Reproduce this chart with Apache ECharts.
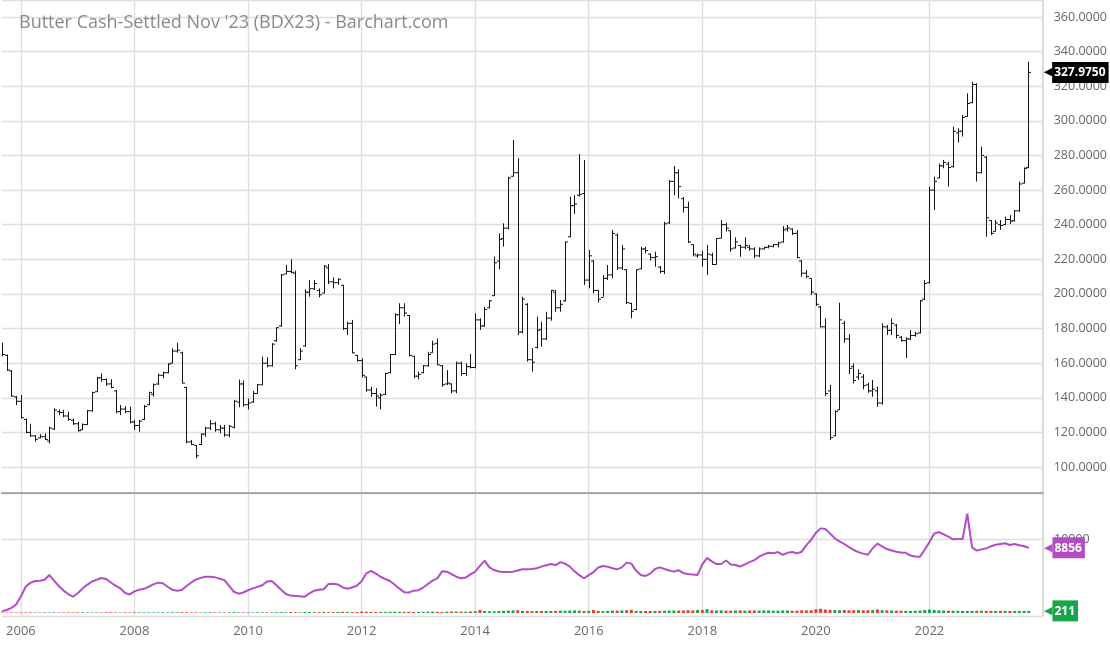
<!DOCTYPE html>
<html><head><meta charset="utf-8">
<script src="https://cdn.jsdelivr.net/npm/echarts@6.0.0/dist/echarts.min.js"></script>
<style>html,body{margin:0;padding:0;background:#fff}#c{width:1110px;height:645px}</style>
</head><body><div id="c"></div>
<script>
const chartTitle = "Butter Cash-Settled Nov '23 (BDX23) - Barchart.com";
// months: Sep 2005 .. Jan 2024 (category axis)
const firstYear = 2005, firstMonth = 9, monthCount = 221;
const months = [];
for (let i = 0; i < monthCount; i++) {
  const t = firstYear * 12 + firstMonth - 1 + i;
  months.push(Math.floor(t / 12) + '-' + String(t % 12 + 1).padStart(2, '0'));
}
// monthly OHLC, Sep 2005 .. Oct 2023
const opens = [
  171,164.5,155.5,140.5,
  138,127.5,120,118,116.8,117.5,115,122,132,131.5,129.5,127,
  125,121.5,124.5,132.5,143.5,151.5,150.5,148,144,132,133.5,132,
  126,124,127.5,136,142,148,153,154.5,160,167,166,146,
  114.5,112.5,113,119,122.5,125,121.5,122.5,118.5,123,137.5,148,
  136,137.5,142.5,147.5,160,158.5,173,181.5,211.5,213,212,162,
  170,201,203,202,200.5,215,207,206.5,205,180,183,164.5,
  161.5,152,144.5,142.5,140,142,154.5,165,188,192,187.5,164,
  152.5,154.5,158.5,166,171.5,158.5,148,148,144,160,154,158,
  157.5,185,181.5,192,199,219,232,238,268,270,178,194,
  162,169,179.5,174,186,201,192,196,233,251,257,258,
  208,219,202,198,209,211,234,215,214,194.5,191,214.5,
  226,223,221,215.5,213,241,265,270,255,250,228.5,222,
  222.5,220,222.5,217,232.2,240,236.5,226.5,228,227,227,226,
  222,226,227,227.5,228.5,230,237.5,237.5,235,219,212,209,
  200,192.5,181,144,118,133,183,174,158,152,152,147.5,
  144,144,137,181,179,182,175,173,174,176,177.5,197,
  206.5,260,267,274,275,273.5,293,294,302.5,310.5,321,270,
  279,242.5,236,240,240,243,242.5,248,264,273
];
const highs = [
  171.8,165,156,141,
  141.6,128,125,118.5,119,119.5,123.3,133.9,133.3,133,132,128,
  126.2,125.2,133,143.5,152.2,154.1,151.2,150.7,144.5,135.8,135.2,134.9,
  127.2,127.2,135.8,143.5,148.3,154.1,155.1,159.9,168.6,171.8,166.6,146.4,
  115.6,112.7,119.5,123.3,127.2,126.2,124.3,124.3,124.3,138.7,150.5,150,
  139.5,144,148,163.8,163.4,171.5,180.7,211.5,216.7,220,213.4,168.6,
  202.7,208,208,203.2,216.7,217.3,209.6,209,205.2,184,185,164.7,
  162.8,152.2,146.4,145.5,142.6,154.5,165.3,188.8,194.6,194.6,187.8,164.1,
  155.1,158.9,166.6,173,174.3,158.9,156,148.3,160.9,160.9,159.9,165.3,
  188.8,185.9,192.6,196.5,221.5,235,240.8,267.7,288.9,278.3,198.4,194.6,
  168.6,186.9,184,189.7,202.3,202.3,196.5,230.2,256.2,257.1,280.8,277.4,
  225.4,219.6,202.3,210.9,216.7,236.9,235,228.3,214.2,194.9,214.2,227.3,
  227.3,223.4,224.4,216.1,241.7,265.8,273.9,272,256,253.3,228.8,223.4,
  225,228.3,223.8,232.1,242.7,241.2,236.6,232.7,228.3,232.7,228.3,226.9,
  226.9,227.3,228.3,228.9,230.2,239.2,239.8,237.9,236.9,219.6,213.8,209,
  200.3,193,185.9,147.4,132.9,194.9,184.5,176.8,159.9,156.4,153.7,148.7,
  150.3,146.4,183,182,185.9,182.6,175.7,175,179.1,178.2,196.5,208,
  262,267.7,275.4,277.4,276.4,296.6,295.7,303.4,315.9,322.6,321.7,285.1,
  279.7,242.7,242.7,242.7,244.6,245.6,248.5,264.9,273.1,334.2
];
const lows = [
  164,155.5,140.6,135.8,
  128,119.5,117.5,114.6,116.6,115.6,113.7,121.4,130,128.7,126.8,124.3,
  120.4,121.4,124.3,132,143.5,149.3,146.8,145.5,131,130,131,125.2,
  121.4,120.4,127.2,135.8,140.6,147.4,151.2,154.1,159.9,166,148.3,113.7,
  112.7,105,112.7,117.5,121.4,120.4,119.5,117.5,117.2,122.3,134.5,134.9,
  133.3,137,142.4,147.4,157.6,158,172.4,181.1,211.5,211.9,156.4,161.8,
  169.5,198.4,202.3,198,200.3,205.7,203.2,205.2,179.2,176.3,165.7,160.9,
  151.8,143.5,140.6,134.9,133.3,141.6,154.1,164.7,182.6,186.9,163.8,151.2,
  150.7,154.1,158,166,158.9,146.4,147.4,142.6,142.6,152.6,152.6,157,
  157,179.2,181.1,191.7,198.8,214.2,227.3,237.3,267.7,176.3,177.2,160.9,
  155.1,168.6,169.5,173.4,184.5,189.7,189.7,195.5,232.7,246.2,256.2,205.2,
  203.2,200.3,195,198.4,208,209,213.8,213.8,194.2,185.9,190.7,214.2,
  223.4,219.2,215.7,211.9,211.5,240.4,257.1,255.2,247,229.4,221.7,220.9,
  215.7,210.9,216.7,217,232.1,236,224.4,226.3,221.5,225.8,225,220.6,
  221.2,225.8,226.3,226.9,226.9,229.6,236,234,220.6,210,209,199.4,
  193,180.7,141,115.6,117.9,132.9,171.8,153.7,148.3,150.3,144.9,142.9,
  140.6,134.8,136,176.3,176.3,174.3,172.4,163,173.4,175.3,177.2,196.5,
  206.1,248.5,266.8,272.6,262,273.1,287.4,290.9,302.4,310.1,264.9,269.7,
  233.1,234,236,237,239.8,240.4,241.7,247.5,263.9,272.6
];
const closes = [
  165,156,141,138,
  128.5,120,118,116,117.5,116,122.5,133,131.5,129.5,127.5,125,
  121,124.5,132.5,143,151.5,150.5,148,146,132,133.5,132,126,
  124,126.5,135,143,147.5,153,154.5,159.5,167,167.5,148.5,114.5,
  113,106.5,119,122.5,125,121.5,122.5,118.5,123.5,138,148,136,
  137,142.5,147.5,160,158.5,171,180.5,211,213,212.5,158.5,167,
  201,203,206,199.5,216,207,206.5,208.5,180,183,166,161.5,
  153,144.5,142.5,141,141.5,154,165,188,192,189,164.5,152.5,
  153.5,158.5,165,171,159,147.5,148.5,144,160,154,158,157.5,
  185,181.5,191,196,218,231.5,238,267,270,178,197,162,
  160.5,179,174,186,202,192,194,230,251,252,257.5,208,
  222,202,197,209,211,235,215,226,195,190,214,226,
  225,221,221.5,213,240.5,265,270,262,250,230,223,222.5,
  220,223,217,232,240,238,226,230,227,228,226,222,
  226,226.8,227.5,228.5,229.5,237,238,235,221,212,210,201,
  194,181,142.5,117,132,185,174,157,150,154,147,144,
  145,137,181,179,183,176,173,174,176,177,196,206,
  260,265,274,276,273,294,294,302,310,321,270,280,
  244,235,241,239.5,243,242,248,263.5,272.5,327.975
];
// open interest, monthly
const openInterest = [
  600,780,1050,1500,
  2550,3800,4300,4550,4590,4700,5325,4600,3900,3300,2850,2500,
  2950,3560,4050,4480,4700,4930,4800,4350,3950,3600,2980,2800,
  3200,3400,3530,3800,4100,4330,4250,3800,3400,3280,3370,3900,
  4350,4750,4950,5100,5100,5020,4850,4650,3900,3150,2900,3050,
  3350,3590,3780,4000,4480,4550,4000,3400,2850,2650,2600,2550,
  2510,2950,3280,3400,3480,4150,4200,4100,3700,3550,3700,3950,
  4500,5540,5850,5500,5100,4800,4550,4050,3550,3100,3050,3290,
  3350,3700,4150,4600,4890,5800,5760,5450,5100,4890,4990,5400,
  5760,6500,7190,6320,5970,5780,5710,5730,5760,5900,6060,6080,
  6100,6200,6410,6600,6750,6620,7000,6800,6410,5800,5300,4900,
  5300,5700,6300,6490,6410,6200,6060,6320,6930,6800,5900,5330,
  5200,5500,6100,6320,6100,5900,5760,5950,5560,5450,5380,5330,
  6700,7550,7100,6750,6760,7200,6700,6620,6420,6700,7000,7250,
  7700,8000,8220,8150,8300,7950,8200,8300,8140,8350,9200,9900,
  10800,11380,11300,10700,10090,9700,9350,8950,8570,8300,8100,7950,
  8800,9400,9050,8700,8500,8350,8250,8200,7850,7720,7710,8600,
  9600,10700,10900,10600,10300,9960,10000,10000,13300,8920,8490,8650,
  8790,9050,9250,9350,9440,9220,9350,9200,9050,8856
];
// volume, monthly
const volume = [
  40,40,50,50,
  60,50,60,50,50,60,50,60,50,50,60,50,
  60,70,60,50,60,50,60,70,60,50,60,50,
  60,60,70,60,50,60,70,60,70,60,80,70,
  60,60,50,60,70,60,50,60,70,80,60,60,
  70,60,60,70,60,70,80,90,70,100,80,70,
  100,90,80,90,100,90,80,100,120,100,90,80,
  140,120,110,100,100,110,120,130,120,110,120,100,
  110,120,130,140,120,110,130,140,150,140,130,150,
  180,300,200,180,170,190,220,240,260,280,200,190,
  180,200,190,210,200,220,240,230,250,260,240,200,
  220,300,200,190,220,250,240,260,280,320,220,200,
  190,200,210,220,230,250,260,240,250,280,260,300,
  310,380,260,250,270,240,230,250,260,240,250,260,
  240,260,250,230,240,260,250,230,240,270,260,280,
  380,420,350,320,300,280,300,270,280,290,270,280,
  300,360,280,270,250,240,230,220,210,230,250,300,
  340,300,270,250,240,230,220,210,200,210,220,230,
  220,210,200,210,220,200,210,200,220,211
];

const ohlcData = opens.map((o, i) => [i, o, highs[i], lows[i], closes[i]]);
const upColor = '#1aa54b', downColor = '#e2412f', oiColor = '#b44cc8';
const gridColor = '#dedede';

function isEvenYearJan(idx, val) {
  return val.slice(5) === '01' && (+val.slice(0, 4)) % 2 === 0;
}
function isLabelYear(idx, val) {
  return isEvenYearJan(idx, val) && +val.slice(0, 4) < 2024;
}
function badge(bg, text) {
  return {
    show: true, position: 'end', distance: 1, opacity: 1,
    formatter: '{a|\u25C0}{b|' + text + '}',
    rich: {
      a: { color: bg, fontSize: 11, fontFamily: 'DejaVu Sans', lineHeight: 22, padding: [0, 0, 0, 0] },
      b: { backgroundColor: bg, color: '#fff', fontWeight: 'bold', fontSize: 12,
           fontFamily: 'Open Sans', padding: [5, 3, 4, 2], lineHeight: 14 }
    }
  };
}
function badgeLine(bg, text, value) {
  return {
    silent: true, symbol: ['none', 'none'], precision: 4,
    lineStyle: { color: 'rgba(0,0,0,0)', width: 1, type: 'solid' },
    label: badge(bg, text),
    emphasis: { disabled: true },
    data: [{ yAxis: value }]
  };
}

function renderOHLC(params, api) {
  const idx = api.value(0);
  const x = Math.round(api.coord([idx, api.value(1)])[0]) + 0.5;
  const o = api.coord([idx, api.value(1)])[1];
  const h = api.coord([idx, api.value(2)])[1];
  const l = api.coord([idx, api.value(3)])[1];
  const c = api.coord([idx, api.value(4)])[1];
  const st = { stroke: '#151515', lineWidth: 1 };
  return { type: 'group', children: [
    { type: 'line', shape: { x1: x, y1: h, x2: x, y2: l }, style: st },
    { type: 'line', shape: { x1: x - 2.5, y1: o, x2: x, y2: o }, style: st },
    { type: 'line', shape: { x1: x, y1: c, x2: x + 2.5, y2: c }, style: st }
  ]};
}

const chart = echarts.init(document.getElementById('c'), null, { renderer: 'canvas' });
const axisText = { color: '#666', fontSize: 12.5, fontFamily: 'Open Sans' };
chart.setOption({
  animation: false,
  backgroundColor: '#fff',
  title: { text: chartTitle, left: 14, top: 9,
    textStyle: { fontFamily: 'Open Sans', fontSize: 18, color: '#8a8a8a', fontWeight: 'normal' } },
  grid: [
    { left: 2, right: 67, top: 0, height: 493 },
    { left: 2, right: 67, top: 493, height: 123 }
  ],
  xAxis: [
    { type: 'category', gridIndex: 0, data: months, boundaryGap: false,
      axisLine: { show: true, onZero: false, lineStyle: { color: '#a9a9a9', width: 2 } },
      axisTick: { show: false }, axisLabel: { show: false },
      splitLine: { show: true, interval: isEvenYearJan, lineStyle: { color: gridColor, width: 1.3 } } },
    { type: 'category', gridIndex: 1, data: months, boundaryGap: false,
      axisLine: { show: false }, axisTick: { show: false },
      axisLabel: { show: true, interval: isLabelYear, margin: 9, color: '#6a6a6a', fontSize: 13,
        fontFamily: 'Open Sans', formatter: v => v.slice(0, 4) },
      splitLine: { show: true, interval: isEvenYearJan, lineStyle: { color: gridColor, width: 1.3 } } }
  ],
  yAxis: [
    { type: 'value', gridIndex: 0, position: 'right', min: 85, max: 369.8,
      splitNumber: 14, minInterval: 20, maxInterval: 20,
      axisLine: { show: true, lineStyle: { color: '#d6d6d6', width: 1.5 } }, axisTick: { show: false },
      axisLabel: Object.assign({ margin: 11, formatter: v => (Math.abs(v % 20) < 1e-6 ? v.toFixed(4) : '') }, axisText),
      splitLine: { lineStyle: { color: gridColor, width: 1.3 } } },
    { type: 'value', gridIndex: 1, position: 'right', min: 0, max: 15974,
      minInterval: 10000, maxInterval: 10000,
      axisLine: { show: true, lineStyle: { color: '#d6d6d6', width: 1.5 } }, axisTick: { show: false },
      axisLabel: Object.assign({ margin: 11, formatter: v => (v === 10000 ? '10000' : '') }, axisText),
      splitLine: { lineStyle: { color: gridColor, width: 1.3 } } },
    { type: 'value', gridIndex: 1, min: -300, max: 12000, show: false, splitLine: { show: false } }
  ],
  series: [
    { type: 'custom', name: 'Price', xAxisIndex: 0, yAxisIndex: 0, renderItem: renderOHLC,
      data: ohlcData, encode: { x: 0, y: [1, 2, 3, 4] }, clip: true, z: 3 },
    { type: 'line', name: 'Last', xAxisIndex: 0, yAxisIndex: 0, data: closes, showSymbol: false,
      symbol: 'none', lineStyle: { color: 'rgba(0,0,0,0)', width: 0 }, silent: true, z: 10,
      markLine: badgeLine('#000000', closes[closes.length - 1].toFixed(4), closes[closes.length - 1]) },
    { type: 'line', name: 'Open Interest', xAxisIndex: 1, yAxisIndex: 1, data: openInterest,
      showSymbol: false, symbol: 'none', lineStyle: { color: oiColor, width: 2 }, z: 4,
      markLine: badgeLine(oiColor, String(openInterest[openInterest.length - 1]), openInterest[openInterest.length - 1]) },
    { type: 'bar', name: 'Volume', xAxisIndex: 1, yAxisIndex: 2, data: volume, barWidth: 3,
      itemStyle: { color: p => (closes[p.dataIndex] >= opens[p.dataIndex] ? upColor : downColor) },
      markLine: badgeLine(upColor, String(volume[volume.length - 1]), volume[volume.length - 1]) }
  ]
});
</script></body></html>
